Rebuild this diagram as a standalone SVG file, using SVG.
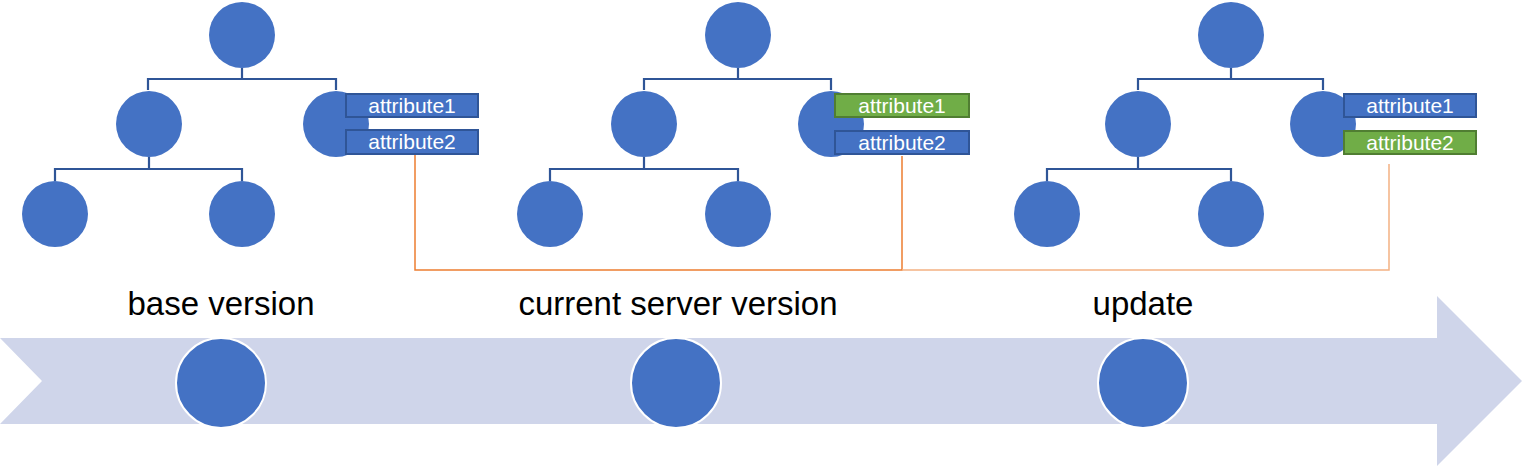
<svg xmlns="http://www.w3.org/2000/svg" width="1522" height="467" viewBox="0 0 1522 467">
<style>
.n{fill:#4472C4}
.tl{fill:#4472C4;stroke:#FFFFFF;stroke-width:2}
.tc{fill:none;stroke:#2F5597;stroke-width:2.2}
.ab{fill:#4472C4;stroke:#2F5597;stroke-width:2}
.ag{fill:#70AD47;stroke:#507E32;stroke-width:2}
.at{font-family:"Liberation Sans",Arial,sans-serif;font-size:21px;fill:#FFFFFF;text-anchor:middle}
.lb{font-family:"Liberation Sans",Arial,sans-serif;font-size:33px;fill:#000000;text-anchor:middle}
</style>
<g id="timeline">
<polygon points="0,338 1437,338 1437,296 1522,381 1437,466 1437,424 0,424 42,381" fill="#CFD5EA"/>
</g>
<g id="connectors">
<path class="tc" d="M242,68V79M148,79H336M148,78V90M336,78V90M149,157V169M55,169H242M55,168V181M242,168V181"/>
<path class="tc" d="M738,68V79M644,79H831M644,78V90M831,78V90M644,157V169M550,169H738M550,168V181M738,168V181"/>
<path class="tc" d="M1231,68V79M1138,79H1323M1138,78V90M1323,78V90M1138,157V169M1047,169H1231M1047,168V181M1231,168V181"/>
<polyline points="415,154 415,270 902,270 902,156" fill="none" stroke="#ED7D31" stroke-width="1.5"/>
<polyline points="902,270 1389,270 1389,164" fill="none" stroke="#F4B183" stroke-width="1.5"/>
</g>
<g id="tree1">
<circle class="n" cx="242" cy="35" r="33"/>
<circle class="n" cx="149" cy="124" r="33"/>
<circle class="n" cx="336" cy="124" r="33"/>
<circle class="n" cx="55" cy="214" r="33"/>
<circle class="n" cx="242" cy="214" r="33"/>
<rect class="ab" x="346" y="94" width="132" height="23"/>
<text class="at" x="412" y="113">attribute1</text>
<rect class="ab" x="346" y="130" width="132" height="24"/>
<text class="at" x="412" y="149">attribute2</text>
</g>
<g id="tree2">
<circle class="n" cx="738" cy="35" r="33"/>
<circle class="n" cx="644" cy="124" r="33"/>
<circle class="n" cx="831" cy="124" r="33"/>
<circle class="n" cx="550" cy="214" r="33"/>
<circle class="n" cx="738" cy="214" r="33"/>
<rect class="ag" x="835" y="94" width="134" height="23"/>
<text class="at" x="902" y="113">attribute1</text>
<rect class="ab" x="835" y="131" width="134" height="23"/>
<text class="at" x="902" y="150">attribute2</text>
</g>
<g id="tree3">
<circle class="n" cx="1231" cy="35" r="33"/>
<circle class="n" cx="1138" cy="124" r="33"/>
<circle class="n" cx="1323" cy="124" r="33"/>
<circle class="n" cx="1047" cy="214" r="33"/>
<circle class="n" cx="1231" cy="214" r="33"/>
<rect class="ab" x="1344" y="94" width="132" height="23"/>
<text class="at" x="1410" y="113">attribute1</text>
<rect class="ag" x="1344" y="131" width="132" height="23"/>
<text class="at" x="1410" y="150">attribute2</text>
</g>
<g id="stage-base">
<text class="lb" x="221" y="315">base version</text>
<circle class="tl" cx="221" cy="383" r="45"/>
</g>
<g id="stage-current">
<text class="lb" x="678" y="315">current server version</text>
<circle class="tl" cx="676" cy="383" r="45"/>
</g>
<g id="stage-update">
<text class="lb" x="1143" y="315">update</text>
<circle class="tl" cx="1143" cy="383" r="45"/>
</g>
</svg>
